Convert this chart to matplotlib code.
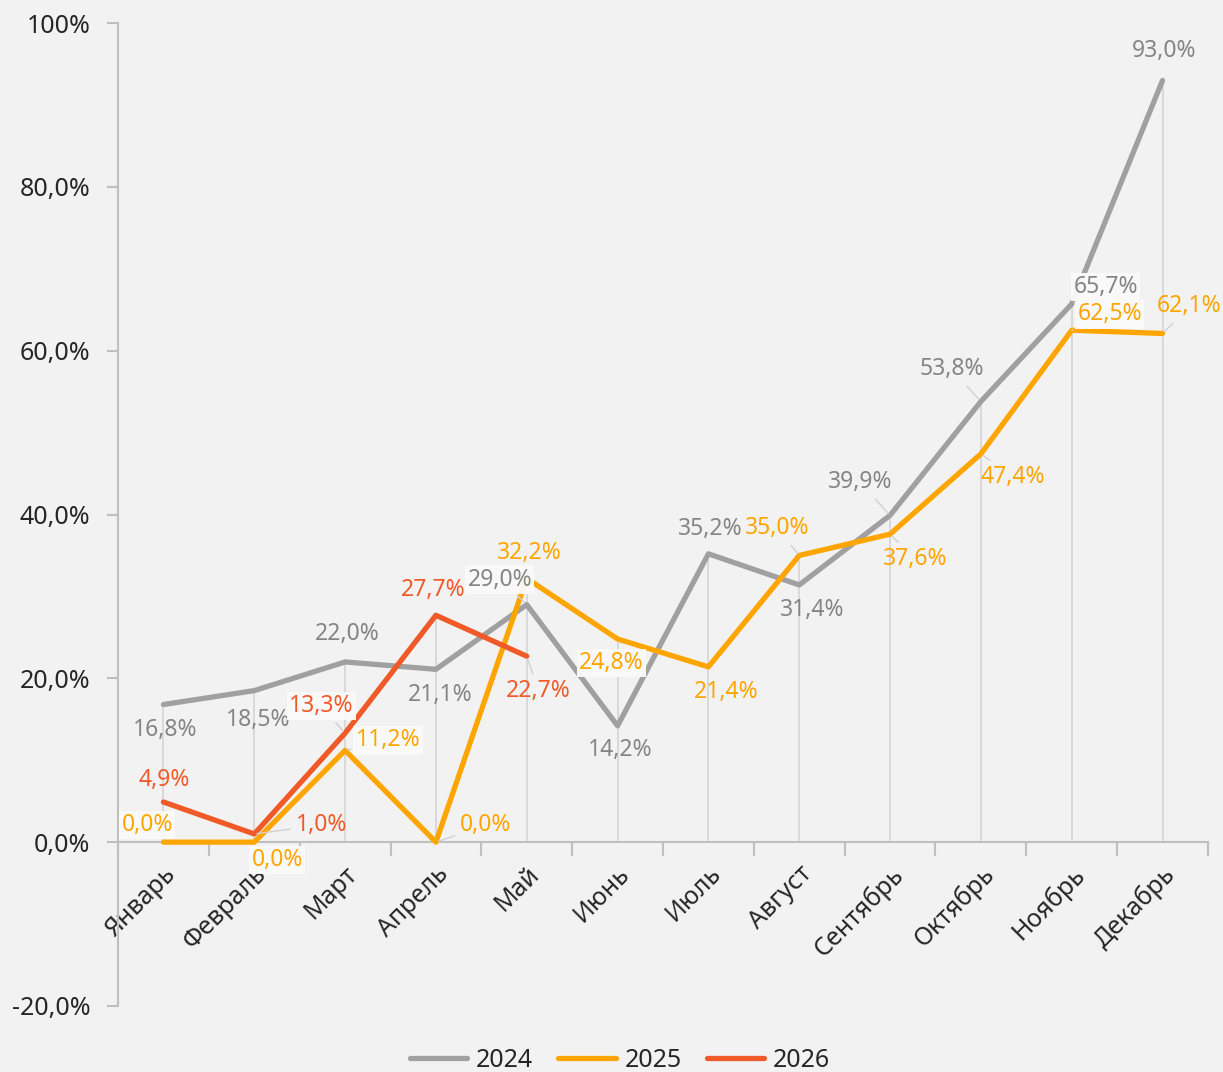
import numpy as np
import matplotlib.pyplot as plt

plt.rcParams['font.family'] = ['Noto Sans', 'DejaVu Sans']

months = ['Январь', 'Февраль', 'Март', 'Апрель', 'Май', 'Июнь',
          'Июль', 'Август', 'Сентябрь', 'Октябрь', 'Ноябрь', 'Декабрь']
years = ['2024', '2025', '2026']
values = {
    '2024': [16.8, 18.5, 22.0, 21.1, 29.0, 14.2, 35.2, 31.4, 39.9, 53.8, 65.7, 93.0],
    '2025': [0.0, 0.0, 11.2, 0.0, 32.2, 24.8, 21.4, 35.0, 37.6, 47.4, 62.5, 62.1],
    '2026': [4.9, 1.0, 13.3, 27.7, 22.7],
}
yticks = [-20, 0, 20, 40, 60, 80, 100]
ytick_labels = ['-20,0%', '0,0%', '20,0%', '40,0%', '60,0%', '80,0%', '100%']

line_colors = {'2024': '#a0a0a0', '2025': '#ffa500', '2026': '#f05a28'}
text_colors = {'2024': '#858585', '2025': '#ffa500', '2026': '#f05a28'}

# label offsets from each point, pixels (dx, dy)
label_offsets = {
    '2024': [(2, -25), (4, -29), (2, 28), (4, -26), (-27, 25), (3, -24),
             (2, 25), (13, -25), (-30, 33), (-29, 32), (34, 17), (2, 29)],
    '2025': [(-16, 17), (23, -18), (43, 10), (50, 17), (3, 25), (-6, -24),
             (18, -25), (-22, 27), (25, -25), (32, -23), (38, 16), (27, 27)],
    '2026': [(1, 22), (67, 9), (-24, 27), (-3, 25), (12, -35)],
}
boxed = {'2024': [4, 10], '2025': [0, 1, 2, 5, 10], '2026': [2]}

bg = '#f2f2f2'
fig = plt.figure(figsize=(12.23, 10.72), dpi=100, facecolor=bg)
ax = fig.add_axes([0.0965, 0.0616, 0.8912, 0.9169], facecolor=bg)

x = np.arange(len(months))

# drop lines from the highest point in each month
for i in x:
    top = max(values[y][i] for y in years if i < len(values[y]))
    ax.plot([i, i], [0, top], color='#d9d9d9', lw=1.4, zorder=1)

for y in years:
    v = values[y]
    ax.plot(x[:len(v)], v, color=line_colors[y], lw=3.8, label=y,
            solid_capstyle='round', solid_joinstyle='round', zorder=3)

for y in years:
    for i, val in enumerate(values[y]):
        dx, dy = label_offsets[y][i]
        txt = f'{val:.1f}%'.replace('.', ',')
        bbox = None
        if i in boxed[y]:
            bbox = dict(boxstyle='square,pad=0.1', fc='#fafafa', ec='none', alpha=0.95)
        arrow = None
        if np.hypot(dx, dy) > 32:
            arrow = dict(arrowstyle='-', color='#d0d0d0', lw=1.0, shrinkA=2, shrinkB=2)
        ax.annotate(txt, (i, val), xytext=(dx, dy), textcoords='offset pixels',
                    ha='center', va='center', fontsize=16.5, color=text_colors[y],
                    bbox=bbox, arrowprops=arrow, zorder=5)

ax.set_xlim(-0.5, 11.5)
ax.set_ylim(-20, 100)
ax.set_yticks(yticks)
ax.set_yticklabels(ytick_labels)

for s in ['top', 'right']:
    ax.spines[s].set_visible(False)
ax.spines['left'].set_color('#bfbfbf')
ax.spines['left'].set_linewidth(1.5)
ax.spines['bottom'].set_position(('data', 0))
ax.spines['bottom'].set_color('#bfbfbf')
ax.spines['bottom'].set_linewidth(1.5)

ax.tick_params(axis='y', length=8, width=1.5, color='#bfbfbf', labelsize=18,
               labelcolor='#262626', pad=12)
ax.set_xticks(x)
ax.set_xticklabels(months, rotation=45, ha='right', va='top', rotation_mode='anchor')
ax.tick_params(axis='x', which='major', length=0, labelsize=18, labelcolor='#262626', pad=14)
ax.set_xticks(np.arange(-0.5, 12, 1), minor=True)
ax.tick_params(axis='x', which='minor', length=10, width=1.5, color='#bfbfbf')

fig.legend(loc='lower center', bbox_to_anchor=(0.507, -0.022), ncol=3, frameon=False,
           fontsize=18, handlelength=2.3, columnspacing=1.0, handletextpad=0.35,
           labelcolor='#262626')

fig.savefig('out.png', dpi=100, facecolor=bg)
